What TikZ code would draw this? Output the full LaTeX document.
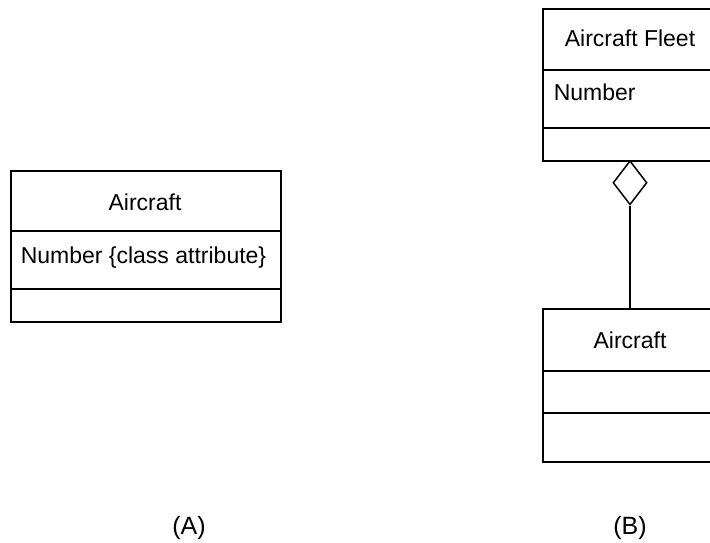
\documentclass[tikz,border=0pt]{standalone}
\usepackage{fontspec}
\setmainfont{Liberation Sans}
\usetikzlibrary{shapes.geometric}
\begin{document}
\begin{tikzpicture}[x=1pt,y=-1pt,line width=1.5pt,
  classbox/.style={draw,rectangle,line width=1.8pt,inner sep=0pt,anchor=north west},
  divider/.style={line width=1.5pt},
  lbl/.style={font=\fontsize{23}{27}\selectfont,inner sep=0pt},
  caption/.style={font=\fontsize{25}{30}\selectfont,inner sep=0pt},
  aggr/.style={draw,diamond,line width=1.5pt,inner sep=0pt,minimum width=34pt,minimum height=44pt,fill=white}]
\useasboundingbox (0,0) rectangle (710,543);
\clip (0,0) rectangle (710,543);
% (A)
\node[classbox,minimum width=270pt,minimum height=151pt] (ca) at (10,170) {};
\draw[divider] (ca.west |- 0,231) -- (ca.east |- 0,231);
\draw[divider] (ca.west |- 0,289) -- (ca.east |- 0,289);
\node[lbl,anchor=base] (caname) at (145,210) {Aircraft};
\node[lbl,anchor=base west] (caattr) at (20,263) {Number \{class attribute\}};
\node[caption,anchor=base] (la) at (189,534) {(A)};
% (B)
\node[classbox,minimum width=176pt,minimum height=152pt] (fleet) at (542,8) {};
\draw[divider] (fleet.west |- 0,70) -- (fleet.east |- 0,70);
\draw[divider] (fleet.west |- 0,128) -- (fleet.east |- 0,128);
\node[lbl,anchor=base] (fleetname) at (630,47) {Aircraft Fleet};
\node[lbl,anchor=base west] (fleetattr) at (553,101) {Number};
\node[classbox,minimum width=176pt,minimum height=153pt] (ac) at (542,308) {};
\draw[divider] (ac.west |- 0,371) -- (ac.east |- 0,371);
\draw[divider] (ac.west |- 0,413) -- (ac.east |- 0,413);
\node[lbl,anchor=base] (acname) at (630,348) {Aircraft};
\node[aggr,anchor=north] (dia) at (630,160) {};
\draw (dia.south) -- (ac.north -| dia.south);
\node[caption,anchor=base] (lb) at (630,534) {(B)};
\end{tikzpicture}
\end{document}
